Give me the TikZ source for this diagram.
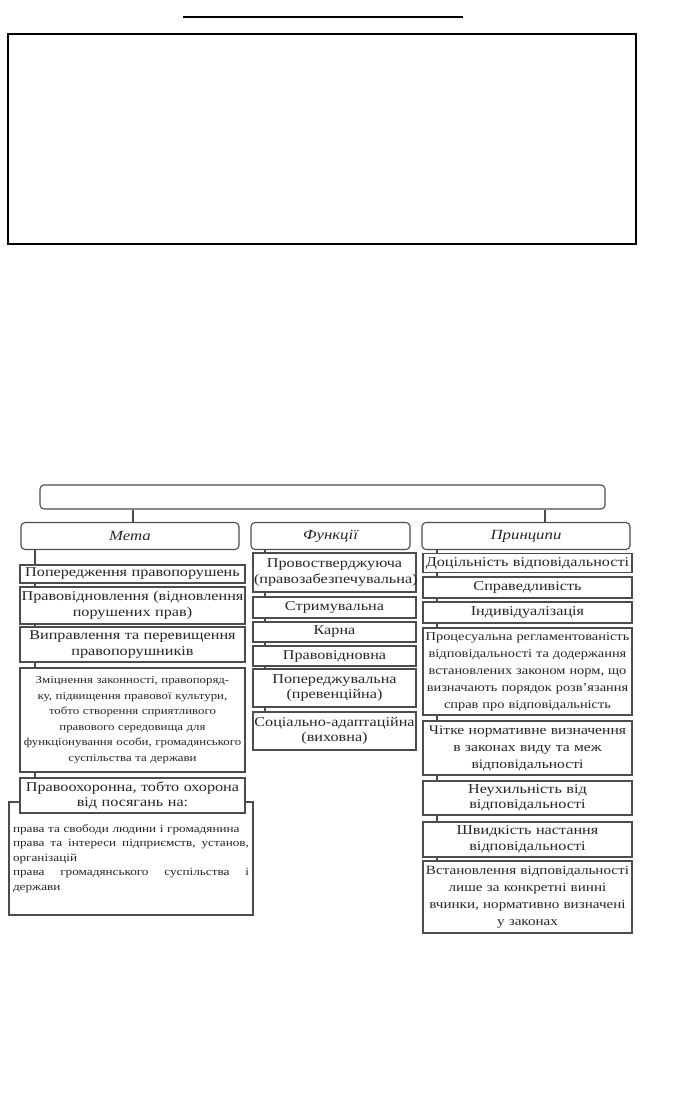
\documentclass[tikz,border=0pt]{standalone}
\usepackage{fontspec}
\setmainfont{Liberation Serif}[FakeStretch=1.2]
\usetikzlibrary{positioning, calc}

\begin{document}
\begin{tikzpicture}[
	x=1pt, y=-1pt,
	every node/.style={align=center, font=\fontsize{13.5}{15.5}\selectfont, text=black!85, inner sep=1pt},
	headbox/.style={draw=black!70, line width=1.1pt, rounded corners=4pt, fill=white, font=\fontsize{14}{15}\selectfont\itshape},
	itembox/.style={draw=black!70, line width=1.1pt, fill=white},
	lcol/.style={itembox, text width=223pt},
	mcol/.style={itembox, text width=161pt},
	rcol/.style={itembox, text width=207pt},
	spine/.style={draw=black!70, line width=1.3pt}
	]
	\useasboundingbox (0,0) rectangle (689,1098);
	% empty frame on top
	\draw[line width=1.2pt] (183,17) -- (463,17);
	\draw[line width=2.5pt] (8,34) rectangle (636,244);
	
	% headers
	\node[headbox, minimum width=565pt, minimum height=24pt] (root) at (322.5,497) {};
	\node[headbox, minimum width=218pt, minimum height=27pt] (meta) at (130,536) {Мета};
	\node[headbox, minimum width=159pt, minimum height=27pt] (func) at (330.5,536) {Функції};
	\node[headbox, minimum width=208pt, minimum height=27pt] (princ) at (526,536) {Принципи};
	
	% column Мета
	\node[lcol, minimum height=18pt] (m1) at (132.5,574) {Попередження правопорушень};
	\node[lcol, minimum height=37pt] (m2) at (132.5,605.5) {Правовідновлення (відновлення\\порушених прав)};
	\node[lcol, minimum height=35pt] (m3) at (132.5,644.5) {Виправлення та перевищення\\правопорушників};
	\node[lcol, minimum height=104pt, font=\fontsize{10.7}{15.5}\selectfont] (m4) at (132.5,720) {Зміцнення законності, правопоряд-\\ку, підвищення правової культури,\\тобто створення сприятливого\\правового середовища для\\функціонування особи, громадянського\\суспільства та держави};
	\node[itembox, text width=236pt, inner sep=4pt, minimum height=113pt, align=left, font=\fontsize{11}{14.5}\selectfont] (m6) at (131,858.5) {права та свободи людини і громадянина\\\makebox[236pt]{права\hfill та\hfill інтереси\hfill підприємств,\hfill установ,}\\організацій\\\makebox[236pt]{права\hfill громадянського\hfill суспільства\hfill і}\\держави};
	\node[lcol, minimum height=35pt] (m5) at (132.5,795.5) {Правоохоронна, тобто охорона\\від посягань на:};
	
	% column Функції
	\node[mcol, minimum height=39pt] (f1) at (334.5,572.5) {Провостверджуюча\\(правозабезпечувальна)};
	\node[mcol, minimum height=21pt] (f2) at (334.5,607.5) {Стримувальна};
	\node[mcol, minimum height=20pt] (f3) at (334.5,632) {Карна};
	\node[mcol, minimum height=20pt] (f4) at (334.5,656) {Правовідновна};
	\node[mcol, minimum height=38pt] (f5) at (334.5,688) {Попереджувальна\\(превенційна)};
	\node[mcol, minimum height=38pt] (f6) at (334.5,731) {Соціально-адаптаційна\\(виховна)};
	
	% column Принципи
	\node[rcol, minimum height=19pt] (p1) at (527.5,563) {Доцільність відповідальності};
	\node[rcol, minimum height=21pt] (p2) at (527.5,587.5) {Справедливість};
	\node[rcol, minimum height=21pt] (p3) at (527.5,612.5) {Індивідуалізація};
	\node[rcol, minimum height=87pt, font=\fontsize{12}{17}\selectfont] (p4) at (527.5,671.5) {Процесуальна регламентованість\\відповідальності та додержання\\встановлених законом норм, що\\визначають порядок розв’язання\\справ про відповідальність};
	\node[rcol, minimum height=54pt, font=\fontsize{13}{17}\selectfont] (p5) at (527.5,748) {Чітке нормативне визначення\\в законах виду та меж\\відповідальності};
	\node[rcol, minimum height=34pt] (p6) at (527.5,798) {Неухильність від\\відповідальності};
	\node[rcol, minimum height=35pt] (p7) at (527.5,839.5) {Швидкість настання\\відповідальності};
	\node[rcol, minimum height=72pt, font=\fontsize{12.6}{17}\selectfont] (p8) at (527.5,897) {Встановлення відповідальності\\лише за конкретні винні\\вчинки, нормативно визначені\\у законах};
	
	% connectors
	\coordinate (ls) at (35,0);
	\coordinate (ms) at (265,0);
	\coordinate (rs) at (437,0);
	\coordinate (lt) at (133,0);
	\coordinate (rt) at (545,0);
	\draw[spine] (root.south -| lt) -- (meta.north -| lt);
	\draw[spine] (root.south -| rt) -- (princ.north -| rt);
	\foreach \a/\b in {meta/m1, m1/m2, m2/m3, m3/m4, m4/m5}
		\draw[spine] (\a.south -| ls) -- (\b.north -| ls);
	\foreach \a/\b in {func/f1, f1/f2, f2/f3, f3/f4, f4/f5, f5/f6}
		\draw[spine] (\a.south -| ms) -- (\b.north -| ms);
	\foreach \a/\b in {princ/p1, p1/p2, p2/p3, p3/p4, p4/p5, p5/p6, p6/p7, p7/p8}
		\draw[spine] (\a.south -| rs) -- (\b.north -| rs);
\end{tikzpicture}
\end{document}
